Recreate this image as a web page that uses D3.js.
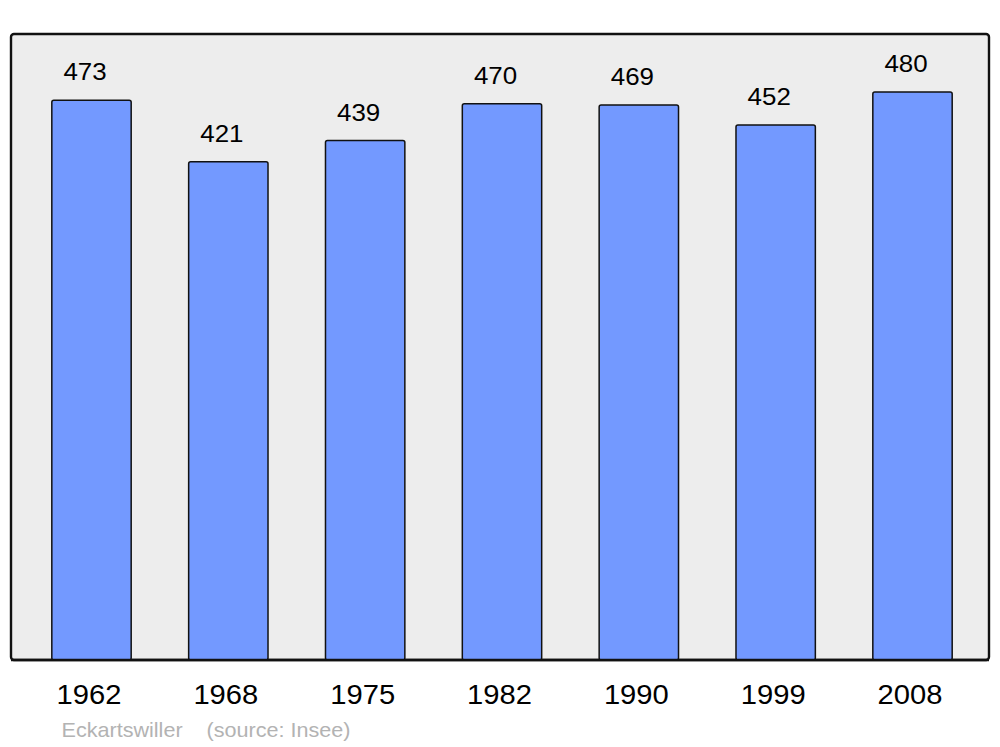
<!DOCTYPE html>
<html><head><meta charset="utf-8">
<script src="https://cdn.jsdelivr.net/npm/d3@7"></script>
<style>html,body{margin:0;padding:0;background:#fff}svg{display:block}</style>
</head><body>
<svg id="c" width="1000" height="747"></svg>
<script>
const years = ["1962","1968","1975","1982","1990","1999","2008"];
const population = [473,421,439,470,469,452,480];
const commune = "Eckartswiller";
const source = "(source: Insee)";

const svg = d3.select("#c");
const font = "'Liberation Sans', Arial, sans-serif";
const panel = {x0:11, y0:34, x1:989, y1:660};
const sx = 1.08;

svg.append("rect").attr("x",panel.x0).attr("y",panel.y0)
  .attr("width",panel.x1-panel.x0).attr("height",panel.y1-panel.y0)
  .attr("rx",3).attr("ry",3)
  .attr("fill","#ededed").attr("stroke","#111").attr("stroke-width",2.4);

const x = d3.scaleBand().domain(years).range([23.08, 980.92]).paddingInner(0.42).paddingOuter(0.21);
const y = d3.scaleLinear().domain([0, 529]).range([panel.y1, panel.y0]);

const g = svg.append("g");
g.selectAll("rect.bar").data(years).join("rect").attr("class","bar")
  .attr("x", d=>x(d)).attr("width", x.bandwidth())
  .attr("y", (d,i)=>y(population[i])).attr("height",(d,i)=>y(0)-y(population[i]))
  .attr("rx",2).attr("ry",2)
  .attr("fill","#7399ff").attr("stroke","#111").attr("stroke-width",1.5);

svg.append("line").attr("x1",panel.x0).attr("x2",panel.x1).attr("y1",panel.y1).attr("y2",panel.y1)
  .attr("stroke","#111").attr("stroke-width",2.4);

g.selectAll("text.val").data(years).join("text").attr("class","val")
  .attr("transform",(d,i)=>`translate(${x(d)+x.bandwidth()/2-6.5},${y(population[i])-20}) scale(${sx},1)`)
  .attr("text-anchor","middle").attr("font-family",font).attr("font-size",24)
  .attr("fill","#000").text((d,i)=>population[i]);

const ax = svg.append("g").attr("transform",`translate(-2.5,${panel.y1})`)
  .call(d3.axisBottom(x).tickSize(0).tickPadding(0));
ax.select(".domain").remove();
ax.selectAll("text").attr("font-family",font).attr("font-size",27).attr("fill","#000")
  .attr("dy",null).attr("y",44).attr("transform",`scale(${sx},1)`);

svg.append("text").attr("transform",`translate(61.5,737) scale(${sx},1)`).attr("font-family",font).attr("font-size",20)
  .attr("fill","#b3b3b3").text(commune);
svg.append("text").attr("transform",`translate(206.5,737) scale(${sx},1)`).attr("font-family",font).attr("font-size",20)
  .attr("fill","#b3b3b3").text(source);
</script>
</body></html>
